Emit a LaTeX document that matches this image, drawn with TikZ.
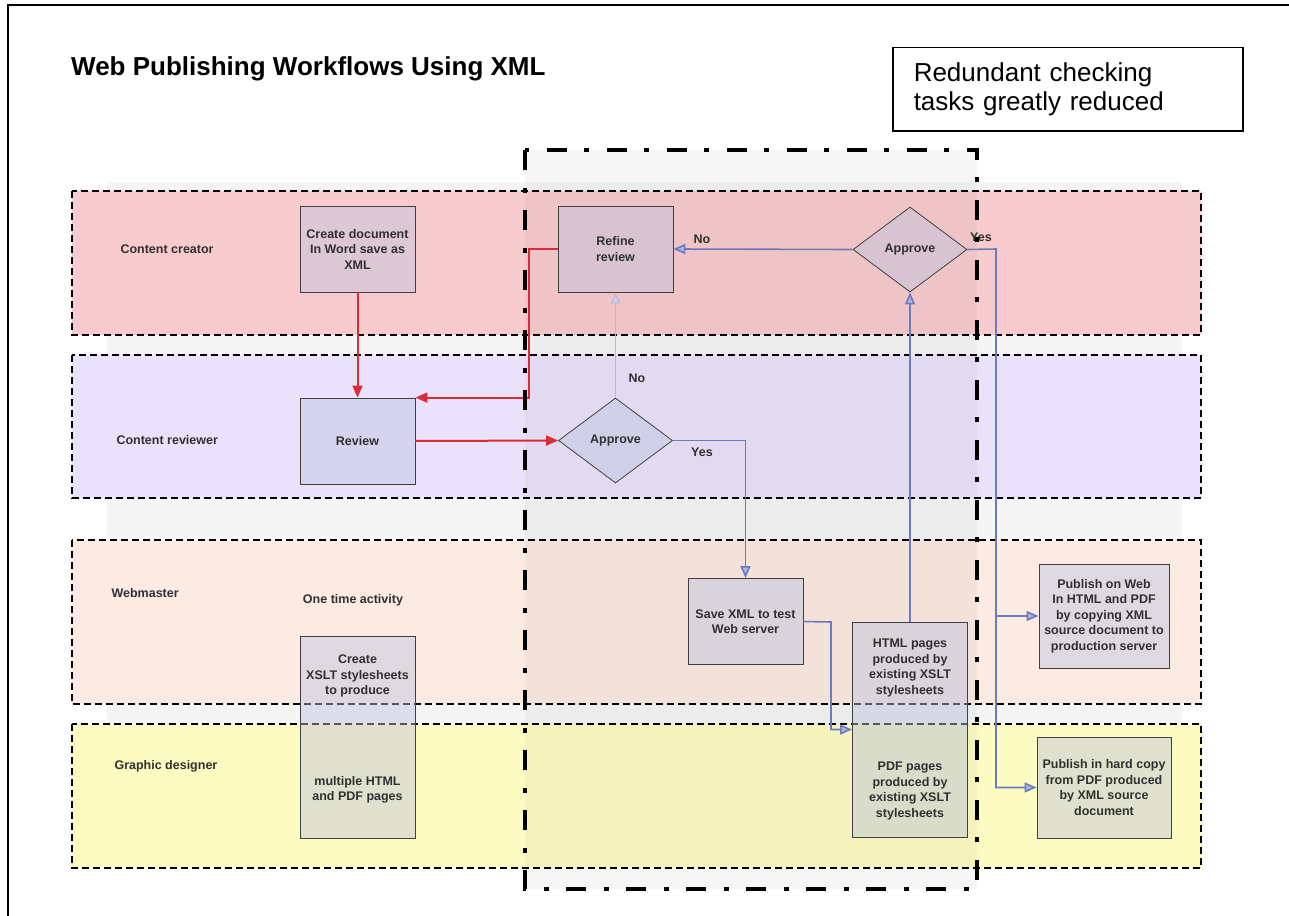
\documentclass[tikz,border=0pt]{standalone}
\usepackage{fontspec}
\setmainfont{Liberation Sans}
\usetikzlibrary{shapes.geometric,arrows.meta}
\definecolor{creatorpink}{RGB}{248,204,206}
\definecolor{reviewerlilac}{RGB}{234,226,250}
\definecolor{webpeach}{RGB}{251,235,226}
\definecolor{designyellow}{RGB}{252,252,194}
\definecolor{flowred}{RGB}{218,44,56}
\definecolor{flowblue}{RGB}{108,122,190}
\definecolor{flowtip}{RGB}{170,180,226}
\definecolor{flowpale}{RGB}{186,186,216}
\definecolor{boxtint}{RGB}{188,194,222}
\definecolor{inktext}{RGB}{48,48,48}
\newcommand{\taskfont}{\fontsize{12.5}{15.5}\selectfont\bfseries}

\tikzset{
    lane/.style={draw=black, line width=2pt, dash pattern=on 7pt off 4pt},
    lanelabel/.style={anchor=west, text=inktext, font=\taskfont},
    task/.style={draw=black!75, line width=0.8pt, fill=boxtint, fill opacity=0.45,
        text opacity=1, text=inktext, font=\taskfont, align=center,
        minimum width=115pt, minimum height=86pt, inner sep=0pt},
    decision/.style={task, diamond, minimum width=114pt, minimum height=85pt},
    caption/.style={text=inktext, font=\taskfont, align=center},
    redflow/.style={draw=flowred, line width=2pt, -{Triangle[length=12pt,width=10pt]}},
    blueflow/.style={draw=flowblue, line width=1.6pt,
        -{Triangle[length=12pt,width=10pt,fill=flowtip]}},
    paleflow/.style={draw=flowpale, line width=1.3pt,
        -{Triangle[length=11pt,width=9pt,fill=flowtip!60]}},
    dashdot/.style={draw=black, line width=4pt, dash pattern=on 20pt off 18pt on 5pt off 17pt}
}

\begin{document}
\begin{tikzpicture}[x=1pt, y=-1pt]
    \useasboundingbox (0,0) rectangle (1289,915);
    \draw[line width=2.5pt] (8,925) -- (8,5) -- (1300,5);

    \node[anchor=base west, inner sep=0pt, font=\fontsize{26}{30}\selectfont\bfseries] (title) at (71,76)
        {Web Publishing Workflows Using XML};
    \node[draw, line width=1.5pt, anchor=north west, minimum width=350pt, minimum height=83pt,
        text width=308pt, align=left, font=\fontsize{26}{28.5}\selectfont] (note) at (892,47)
        {Redundant checking\\tasks greatly reduced};

    % swim lanes
    \fill[black!4] (107,182) rectangle (1182,868);
    \draw[lane, fill=creatorpink] (72,191) rectangle (1201,335);
    \draw[lane, fill=reviewerlilac] (72,355) rectangle (1201,498);
    \draw[lane, fill=webpeach] (72,540) rectangle (1201,704);
    \draw[lane, fill=designyellow] (72,724) rectangle (1201,868);
    \fill[black, opacity=0.035] (525,150) rectangle (977,889);

    \node[lanelabel] (creator) at (117,249) {Content creator};
    \node[lanelabel] (reviewer) at (113,440) {Content reviewer};
    \node[lanelabel] (webmaster) at (108,593) {Webmaster};
    \node[lanelabel] (designer) at (111,766) {Graphic designer};
    \node[caption] (onetime) at (353,600) {One time activity};

    % tasks
    \node[task] (createdoc) at (357.5,249) {Create document\\In Word save as\\XML};
    \node[task] (refine) at (615.5,249) {Refine\\review};
    \node[decision] (approvetop) at (910,249.5) {Approve};
    \node[task] (review) at (357.5,441) {Review};
    \node[decision] (approvemid) at (615.5,440.5) {Approve};
    \node[task] (savexml) at (745.5,621.5) {Save XML to test\\Web server};
    \node[task, minimum height=215pt] (htmlpdf) at (910,729.5) {};
    \node[caption] (htmltxt) at (910,668) {HTML pages\\produced by\\existing XSLT\\stylesheets};
    \node[caption] (pdftxt) at (910,791) {PDF pages\\produced by\\existing XSLT\\stylesheets};
    \node[task, minimum height=202pt] (xslt) at (357.5,737) {};
    \node[caption] (xslttop) at (357.5,676) {Create\\XSLT stylesheets\\to produce};
    \node[caption] (xsltbottom) at (357.5,790) {multiple HTML\\and PDF pages};
    \node[task, minimum width=130pt, minimum height=104pt] (webpub) at (1104,616)
        {Publish on Web\\In HTML and PDF\\by copying XML\\source document to\\production server};
    \node[task, minimum width=134pt, minimum height=101pt] (printcopy) at (1104,787.5)
        {Publish in hard copy\\from PDF produced\\by XML source\\document};

    % flows
    \coordinate (redbend) at (529,249);
    \coordinate (savejog) at (831,622);
    \coordinate (yesbend) at (996,249);
    \draw[redflow] (createdoc.south) -- (review.north);
    \draw[redflow] (refine.west) -- (redbend) |- (review.north east);
    \draw[redflow] (review.east) -- (approvemid.west);
    \draw[paleflow] (approvemid.north) -- (refine.south);
    \draw[blueflow] (approvemid.east) -| (savexml.north);
    \draw[blueflow] (savexml.east) -- (savejog) |- (htmlpdf.west);
    \draw[blueflow] (htmlpdf.north) -- (approvetop.south);
    \draw[blueflow] (approvetop.west) -- (refine.east);
    \draw[blueflow] (approvetop.east) -- (yesbend) |- (printcopy.west);
    \draw[blueflow] (yesbend |- webpub.west) -- (webpub.west);

    \node[caption] (notop) at (702,239) {No};
    \node[caption] (yestop) at (981,237) {Yes};
    \node[caption] (nomid) at (637,378) {No};
    \node[caption] (yesmid) at (702,452) {Yes};

    \draw[dashdot] (525,150) rectangle (977,889);
\end{tikzpicture}
\end{document}
